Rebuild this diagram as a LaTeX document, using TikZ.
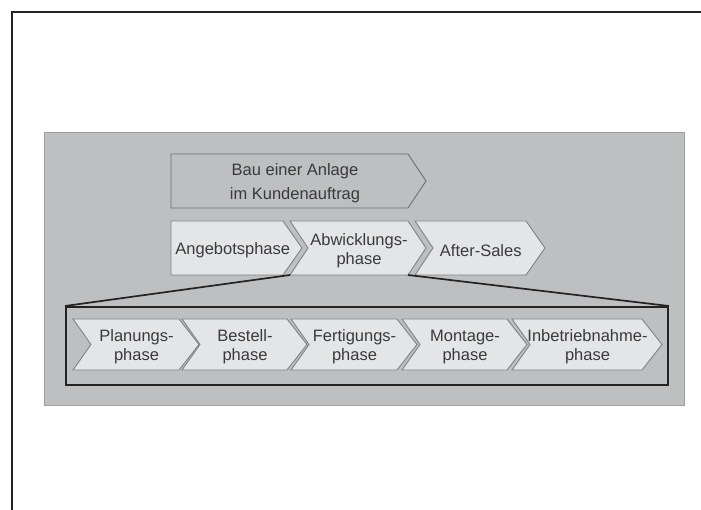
\documentclass[tikz,border=0pt]{standalone}
\usepackage{fontspec}
\setmainfont{Liberation Sans}
\usetikzlibrary{calc}

\definecolor{panelgray}{HTML}{BEBFC1}
\definecolor{paneledge}{HTML}{9C9D9F}
\definecolor{chevfill}{HTML}{E4E5E7}
\definecolor{chevedge}{HTML}{818284}
\definecolor{headedge}{HTML}{6E6F71}
\definecolor{labelgray}{HTML}{3A3A3A}
\definecolor{frameblack}{HTML}{232323}

\tikzset{
  phasebox/.style={fill=chevfill, draw=chevedge, line width=0.9pt, line join=miter},
  headbox/.style={fill=panelgray, draw=headedge, line width=0.9pt, line join=miter},
  phasetext/.style={text=labelgray, align=center, inner sep=0pt,
                    font=\fontsize{16.5}{19}\selectfont},
  zoomline/.style={draw=frameblack, line width=1.7pt},
}

% \chevron{name}{style}{left}{tip}{top}{bottom}{notch depth}{point depth}{text}
\newcommand\chevron[9]{%
  \path[#2] (#3,#5) -- (#4-#8,#5) -- (#4,{(#5+#6)/2}) -- (#4-#8,#6)
            -- (#3,#6) -- (#3+#7,{(#5+#6)/2}) -- cycle;
  \coordinate (#1-bl) at (#3,#6);
  \coordinate (#1-br) at (#4-#8,#6);
  \node[phasetext] (#1) at ({(#3+#7/2+#4-#8/2)/2+1},{(#5+#6)/2+2.5}) {#9};
}

\begin{document}
\begin{tikzpicture}[x=1pt,y=-1pt]
\useasboundingbox (0,0) rectangle (701,510);
\fill[white] (0,0) rectangle (701,510);

% page frame (top and left edges)
\draw[frameblack, line width=2.4pt] (12,510) -- (12,12) -- (701,12);

% grey panel
\node[fill=panelgray, draw=paneledge, line width=1pt, inner sep=0pt,
      minimum width=640pt, minimum height=272pt] (panel) at (364,269) {};

% overall process
\chevron{project}{headbox}{171}{426}{154}{208}{0}{18}{Bau einer Anlage\\[5pt]im Kundenauftrag}

% main phases
\chevron{offer}{phasebox}{171}{302}{221}{275}{0}{19}{Angebotsphase}
\chevron{exec}{phasebox}{290}{426}{221}{275}{18}{18}{Abwicklungs-\\phase}
\chevron{after}{phasebox}{415}{545}{221}{275}{18}{19}{After-Sales}

% detail frame for the execution phase
\node[draw=frameblack, line width=2pt, inner sep=0pt,
      minimum width=602pt, minimum height=78pt] (detail) at (367,346) {};
\draw[zoomline] (exec-bl) -- (detail.north west);
\draw[zoomline] (exec-br) -- (detail.north east);

% sub-phases
\chevron{plan}{phasebox}{73}{199}{319}{370}{18}{20}{Planungs-\\phase}
\chevron{buy}{phasebox}{182}{307}{319}{370}{18}{20}{Bestell-\\phase}
\chevron{make}{phasebox}{291}{417}{319}{370}{18}{20}{Fertigungs-\\phase}
\chevron{mount}{phasebox}{402}{527}{319}{370}{18}{20}{Montage-\\phase}
\chevron{start}{phasebox}{512}{662}{319}{370}{18}{20}{Inbetriebnahme-\\phase}
\end{tikzpicture}
\end{document}
